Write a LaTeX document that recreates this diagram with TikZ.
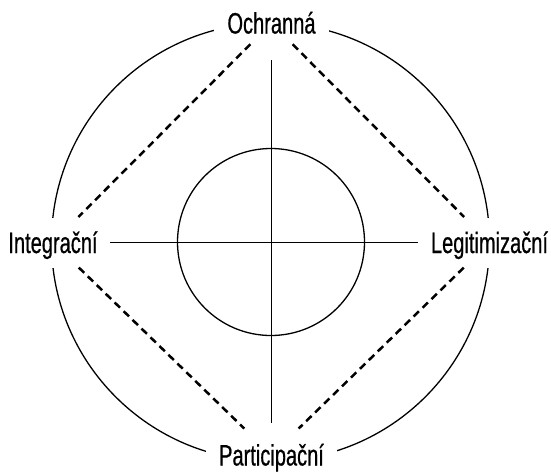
\documentclass[tikz,border=0pt]{standalone}
\usepackage{fontspec}
\setmainfont[FakeStretch=0.68,FakeBold=0.6]{Liberation Sans}
\begin{document}
\begin{tikzpicture}[x=1pt,y=-1pt,
  lbl/.style={fill=white, inner xsep=13pt, inner ysep=9.5pt, text height=26pt, text depth=5pt,
    font=\fontsize{29.5}{30}\selectfont},
  solid line/.style={line width=1.3pt},
  dash line/.style={line width=2.5pt, dash pattern=on 7.5pt off 5pt}]
\useasboundingbox (0,0) rectangle (551,471);
\node[draw, circle, solid line, minimum size=438pt, inner sep=0pt] (outer) at (270.5,242) {};
\node[draw, circle, solid line, minimum size=187pt, inner sep=0pt] (inner) at (271,242) {};
\node[lbl] (top) at (271.5,23) {Ochranná};
\node[lbl] (left) at (53,242.5) {Integrační};
\node[lbl] (right) at (489.5,242.5) {Legitimizační};
\node[lbl] (bottom) at (271.5,455) {Participační};
\draw[solid line, shorten <=37pt, shorten >=32pt] (top.center) -- (bottom.center);
\draw[solid line, shorten <=57pt, shorten >=71.5pt] (left.center) -- (right.center);
\draw[dash line, shorten <=30pt, shorten >=36pt] (top.center) -- (left.center);
\draw[dash line, shorten <=30pt, shorten >=36pt] (top.center) -- (right.center);
\draw[dash line, shorten <=36pt, shorten >=38pt] (left.center) -- (bottom.center);
\draw[dash line, shorten <=36pt, shorten >=38pt] (right.center) -- (bottom.center);
\end{tikzpicture}
\end{document}
